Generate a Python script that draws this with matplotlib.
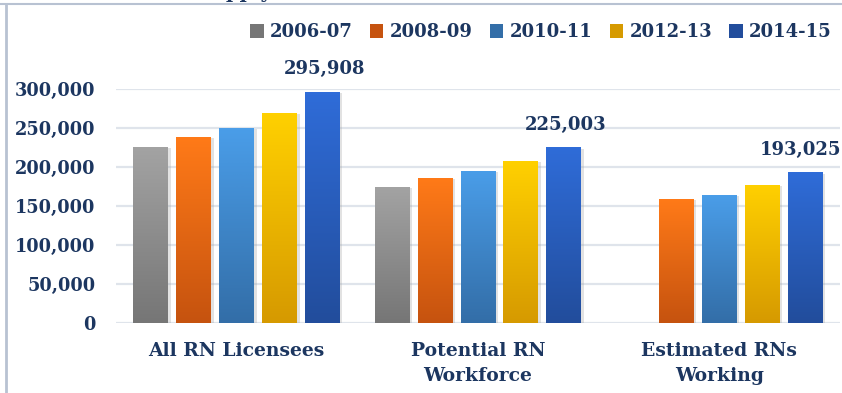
import numpy as np
import matplotlib.pyplot as plt
from matplotlib.colors import LinearSegmentedColormap
from matplotlib.patches import Rectangle
from matplotlib.ticker import FuncFormatter

# RN counts by survey period
categories = ["All RN Licensees", "Potential RN\nWorkforce", "Estimated RNs\nWorking"]
periods = ["2006-07", "2008-09", "2010-11", "2012-13", "2014-15"]
values = {
    "2006-07": [226000, 175000, None],
    "2008-09": [238700, 186400, 159000],
    "2010-11": [250000, 195300, 163800],
    "2012-13": [268900, 207600, 177500],
    "2014-15": [295908, 225003, 193025],
}
yticks = [0, 50000, 100000, 150000, 200000, 250000, 300000]

# top / bottom colour of each bar gradient
shades = {
    "2006-07": ("#a3a3a3", "#767676"),
    "2008-09": ("#ff7a18", "#c6530f"),
    "2010-11": ("#4a9de8", "#336ea8"),
    "2012-13": ("#ffd000", "#d69a00"),
    "2014-15": ("#2f6cd8", "#224d9c"),
}
navy = "#1c3660"
plt.rcParams["font.family"] = ["DejaVu Serif"]
plt.rcParams["font.weight"] = "bold"

fig = plt.figure(figsize=(8.42, 3.93), dpi=100)
ax = fig.add_axes([116 / 842, 1 - 323 / 393, 724 / 842, (323 - 89) / 393])

x = np.arange(len(categories))
width = 0.145
step = 0.178
grad = np.linspace(1, 0, 64).reshape(-1, 1)
label_shift = [1.5, 1.5, -3.5]  # last label nudged in from the right edge

for i, p in enumerate(periods):
    cmap = LinearSegmentedColormap.from_list(p, [shades[p][1], shades[p][0]])
    for xi, v in zip(x, values[p]):
        if v is None:
            continue
        x0 = xi + (i - 2) * step - width / 2
        # soft drop shadow
        ax.add_patch(Rectangle((x0 + 0.006, -3000), width + 0.004, v + 1500,
                               facecolor="#9a9a9a", alpha=0.28, lw=0, zorder=2))
        bar = ax.bar(x0, v, width, align="edge", color=shades[p][1], lw=0, zorder=3)[0]
        im = ax.imshow(grad, cmap=cmap, extent=[x0, x0 + width, 0, v],
                       aspect="auto", zorder=3.5, interpolation="bilinear")
        im.set_clip_path(bar)
    if p == "2014-15":
        for xi, v, dx in zip(x, values[p], label_shift):
            ax.annotate(f"{v:,}", (xi + (i - 2) * step, v), xytext=(dx, 10),
                        textcoords="offset points", ha="center", va="bottom",
                        fontsize=13, color=navy, fontweight="bold")

ax.set_xlim(-0.5, 2.5)
ax.set_ylim(0, 300000)
ax.set_yticks(yticks)
ax.yaxis.set_major_formatter(FuncFormatter(lambda v, _: f"{int(v):,}"))
ax.set_xticks(x)
ax.set_xticklabels(categories, linespacing=1.5)
ax.tick_params(axis="y", length=0, pad=15, labelsize=12.8, labelcolor=navy)
ax.tick_params(axis="x", length=0, pad=14, labelsize=13.5, labelcolor=navy)
ax.grid(axis="y", color="#dfe4eb", lw=1.6, zorder=0)
ax.set_axisbelow(True)
for s in ax.spines.values():
    s.set_visible(False)

handles = [Rectangle((0, 0), 1, 1, facecolor=shades[p][1]) for p in periods]
fig.legend(handles, periods, loc="upper right", bbox_to_anchor=(839 / 842, 1 - 16 / 393),
           ncol=5, frameon=False, fontsize=13, handlelength=0.75, handleheight=0.75,
           handletextpad=0.35, columnspacing=0.95, labelcolor=navy, borderaxespad=0)

# outer frame and cut-off heading
fig.add_artist(plt.Line2D([0, 1], [1 - 3.5 / 393] * 2, color="#b8c2d2", lw=1.5,
                          transform=fig.transFigure))
fig.add_artist(plt.Line2D([6 / 842] * 2, [0, 1 - 3.5 / 393], color="#b8c2d2", lw=2,
                          transform=fig.transFigure))
fig.text(272 / 842, 1 + 2 / 393, "RN Supply", ha="right", va="baseline",
         fontsize=14, color=navy, fontweight="bold")

fig.savefig("out.png", dpi=100)
